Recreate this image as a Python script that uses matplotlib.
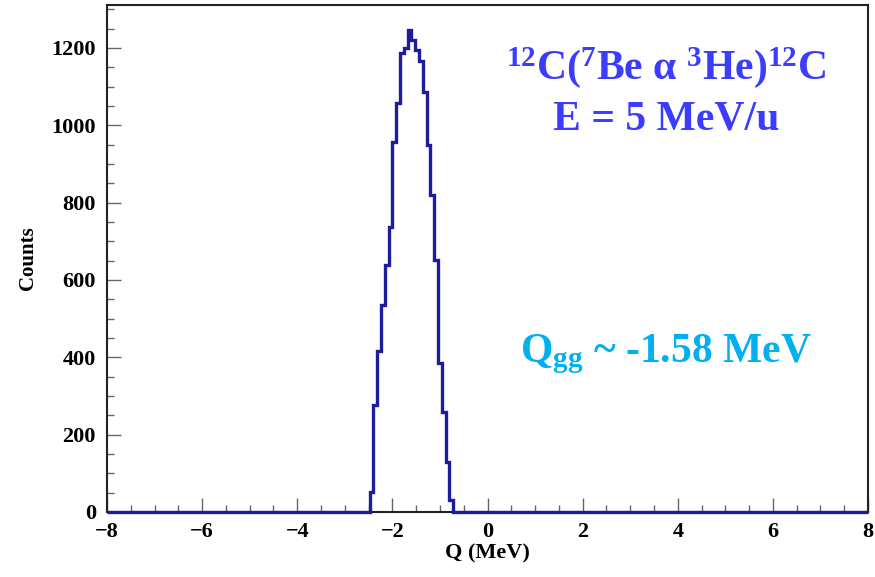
import numpy as np
import matplotlib
matplotlib.use("Agg")
import matplotlib.pyplot as plt
from matplotlib.ticker import MultipleLocator

# Histograma Q (MeV): bins de 0.08 entre -8 e 8, contagens
q_min, q_max, n_bins = -8.0, 8.0, 200
inicio_pico = -2.48  # borda esquerda do primeiro bin não nulo
contagens_pico = [52, 277, 415, 535, 639, 736, 958, 1057, 1186, 1199, 1246,
                  1220, 1195, 1165, 1087, 949, 820, 652, 385, 259, 130, 31]

bordas = np.linspace(q_min, q_max, n_bins + 1)
contagens = np.zeros(n_bins)
i0 = int(round((inicio_pico - q_min) / 0.08))
contagens[i0:i0 + len(contagens_pico)] = contagens_pico

plt.rcParams["font.family"] = ["Liberation Serif", "DejaVu Serif"]
plt.rcParams["font.weight"] = "bold"
plt.rcParams["mathtext.fontset"] = "custom"
plt.rcParams["mathtext.rm"] = "Liberation Serif:bold"
plt.rcParams["mathtext.it"] = "Liberation Serif:bold"
plt.rcParams["mathtext.bf"] = "Liberation Serif:bold"
plt.rcParams["mathtext.default"] = "rm"

fig = plt.figure(figsize=(8.75, 5.77), dpi=100)
ax = fig.add_axes([0.1223, 0.1127, 0.8697, 0.8786])

for s in ax.spines.values():
    s.set_linewidth(1.5)
    s.set_color("#222222")

# linha do histograma por cima do eixo (como no ROOT)
ax.stairs(contagens, bordas, color="#1c1c9c", linewidth=2.4, zorder=5, clip_on=False)

ax.set_xlim(q_min, q_max)
ax.set_ylim(0, 1311)

ax.xaxis.set_major_locator(MultipleLocator(2))
ax.xaxis.set_minor_locator(MultipleLocator(0.5))
ax.yaxis.set_major_locator(MultipleLocator(200))
ax.yaxis.set_minor_locator(MultipleLocator(50))
ax.tick_params(which="both", direction="in", color="#666666", width=1.0)
ax.tick_params(which="major", length=10, labelsize=16)
ax.tick_params(which="minor", length=5)
ax.tick_params(axis="x", which="major", pad=7)
ax.tick_params(axis="y", which="major", pad=8)
ax.set_xticklabels([f"{int(v)}".replace("-", "\u2212") for v in ax.get_xticks()])

ax.set_xlabel("Q (MeV)", fontsize=16, fontweight="bold", labelpad=1)
ax.set_ylabel("Counts", fontsize=15, fontweight="bold", labelpad=10)

# Anotações
ax.text(0.735, 0.877, r"$^{12}$C($^{7}$Be α $^{3}$He)$^{12}$C", transform=ax.transAxes,
        ha="center", va="center", fontsize=30, color="#3c3cff", fontweight="bold")
ax.text(0.735, 0.775, "E = 5 MeV/u", transform=ax.transAxes,
        ha="center", va="center", fontsize=30, color="#3c3cff", fontweight="bold")
ax.text(0.735, 0.312, r"Q$_{\mathrm{gg}}$ ~ -1.58 MeV", transform=ax.transAxes,
        ha="center", va="center", fontsize=30, color="#00b0f0", fontweight="bold")

fig.savefig("out.png", dpi=100)
